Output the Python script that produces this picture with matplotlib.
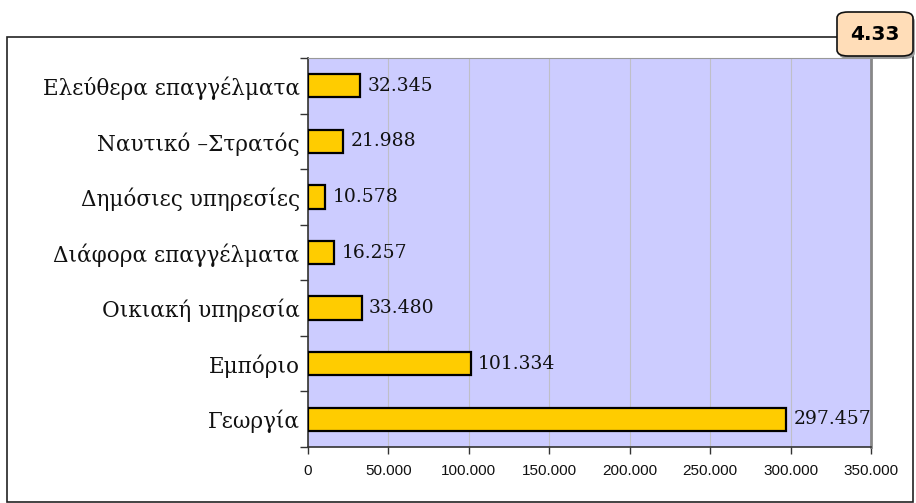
import matplotlib
matplotlib.use("Agg")
import matplotlib.pyplot as plt
from matplotlib.patches import Rectangle, FancyBboxPatch
from matplotlib.ticker import FuncFormatter, FixedLocator

categories = ["Ελεύθερα επαγγέλματα", "Ναυτικό –Στρατός", "Δημόσιες υπηρεσίες",
              "Διάφορα επαγγέλματα", "Οικιακή υπηρεσία", "Εμπόριο", "Γεωργία"]
values = [32345, 21988, 10578, 16257, 33480, 101334, 297457]
value_labels = ["32.345", "21.988", "10.578", "16.257", "33.480", "101.334", "297.457"]
xticks = [0, 50000, 100000, 150000, 200000, 250000, 300000, 350000]
badge = "4.33"

W, H = 916, 503
fig = plt.figure(figsize=(W / 100, H / 100), dpi=100)
fig.patch.set_facecolor("white")

# outer frame
fig.patches.append(Rectangle((7 / W, 0.002), (913 - 7) / W, 1 - 37 / H - 0.002,
                             transform=fig.transFigure, fill=False,
                             edgecolor="#222222", linewidth=1.2, zorder=0))

ax = fig.add_axes([308 / W, 1 - 447 / H, (871 - 308) / W, (447 - 58) / H])
ax.set_facecolor("#CCCCFF")

n = len(categories)
ypos = list(range(n))[::-1]
ax.barh(ypos, values, height=0.42, color="#FFCC00", edgecolor="black",
        linewidth=1.6, zorder=3)
for y, v, lab in zip(ypos, values, value_labels):
    ax.text(v + 4500, y, lab, va="center", ha="left", fontsize=13.5,
            family="DejaVu Serif", color="#111111", zorder=4)

ax.set_xlim(0, 350000)
ax.set_ylim(-0.5, n - 0.5)
ax.set_xticks(xticks)
ax.xaxis.set_major_formatter(FuncFormatter(lambda x, p: f"{int(x):,}".replace(",", ".")))
ax.set_yticks(ypos)
ax.set_yticklabels(categories, family="DejaVu Serif", fontsize=15.5, color="#111111")
ax.yaxis.set_minor_locator(FixedLocator([i - 0.5 for i in range(n + 1)]))
ax.tick_params(axis="y", which="major", length=0, pad=6)
ax.tick_params(axis="y", which="minor", length=6, width=1, color="#333333")
ax.tick_params(axis="x", length=5, width=1, color="#333333", labelsize=11, pad=7)
for t in ax.get_xticklabels():
    t.set_family("Liberation Sans")
    t.set_color("#111111")
ax.grid(axis="x", color="#BFBFC8", linewidth=0.8, zorder=1)
ax.set_axisbelow(True)
ax.spines["top"].set_color("#999999")
ax.spines["right"].set_color("#888888")
ax.spines["right"].set_linewidth(2)
ax.spines["left"].set_color("#333333")
ax.spines["bottom"].set_color("#333333")
ax.spines["left"].set_linewidth(1.2)
ax.spines["bottom"].set_linewidth(1.2)

# badge
bx0, by0, bx1, by1 = 837, 12, 913, 56
fig.patches.append(FancyBboxPatch((bx0 / W + 0.002, 1 - by1 / H - 0.006),
                                  (bx1 - bx0) / W, (by1 - by0) / H,
                                  boxstyle="round,pad=0,rounding_size=0.012",
                                  transform=fig.transFigure, facecolor="#999999",
                                  edgecolor="none", zorder=5))
fig.patches.append(FancyBboxPatch((bx0 / W, 1 - by1 / H), (bx1 - bx0) / W, (by1 - by0) / H,
                                  boxstyle="round,pad=0,rounding_size=0.012",
                                  transform=fig.transFigure, facecolor="#FFDDB8",
                                  edgecolor="#111111", linewidth=1.2, zorder=6))
fig.text((bx0 + bx1) / 2 / W, 1 - (by0 + by1) / 2 / H, badge, ha="center", va="center",
         fontsize=14.5, fontweight="bold", family="DejaVu Sans", zorder=7)

fig.savefig("out.png", dpi=100)
